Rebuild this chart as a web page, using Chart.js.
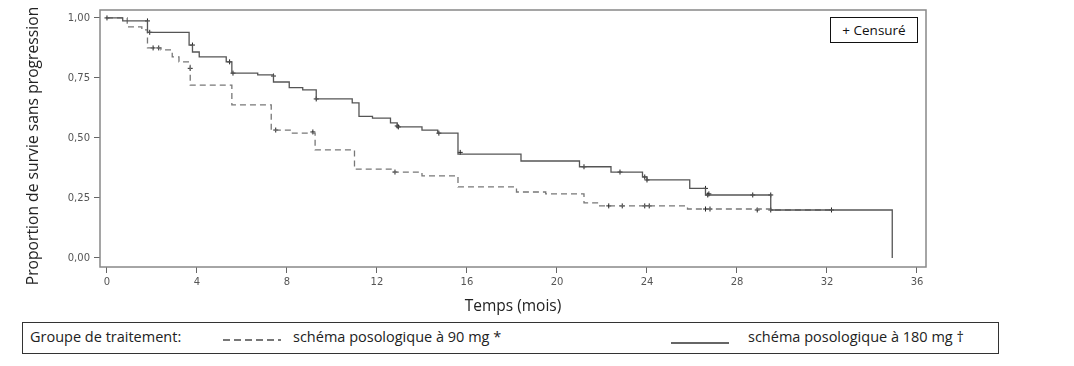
<!DOCTYPE html>
<html lang="fr">
<head>
  <meta charset="UTF-8">
  <title>Survie sans progression</title>
  <style>
    body {
      margin: 0;
      background: #fff;
      font-family: "Open Sans", "Liberation Sans", Arial, sans-serif;
    }
    #wrap {
      position: relative;
      width: 1074px;
      height: 366px;
    }
    #box {
      position: absolute;
      left: 0;
      top: 0;
      width: 1074px;
      height: 320px;
    }
    #censor {
      position: absolute;
      left: 830px;
      top: 17px;
      width: 86px;
      height: 24px;
      border: 1px solid #111;
      font-size: 13.5px;
      line-height: 24px;
      text-align: center;
      color: #111;
      background: #fff;
    }
    #legend {
      position: absolute;
      left: 22px;
      top: 322px;
      width: 975px;
      height: 30px;
      border: 1px solid #333;
      font-size: 14.5px;
      color: #222;
    }
    #legend span {
      position: absolute;
      top: 4px;
      white-space: nowrap;
    }
    #legend .sample {
      position: absolute;
      width: 58px;
      height: 1.5px;
    }
  </style>
</head>
<body>
  <div id="wrap">
    <div id="box"><canvas id="chart"></canvas></div>
    <div id="censor">+ Censuré</div>
    <div id="legend">
      <span style="left:7px">Groupe de traitement:</span>
      <div class="sample" style="left:200px;top:16px;background:repeating-linear-gradient(90deg,#777 0 7px,transparent 7px 11px)"></div>
      <span style="left:270px">schéma posologique à 90 mg *</span>
      <div class="sample" style="left:648px;top:19px;background:#666"></div>
      <span style="left:725px">schéma posologique à 180 mg †</span>
    </div>
  </div>

  <script src="https://cdn.jsdelivr.net/npm/chart.js"></script>
  <script>
    // 180 mg arm (solid)
    const months180 = [0, 0.7, 1.8, 3.65, 3.8, 4.1, 5.3, 5.55, 6.7, 7.4, 8.1, 8.7, 9.3, 10.9, 11.2, 11.8, 12.6, 12.9, 14.0, 14.7, 15.6, 18.4, 21.0, 22.4, 23.8, 24.0, 25.9, 26.6, 29.5, 34.9];
    const surv180 = [1, 0.9875, 0.94, 0.887, 0.858, 0.8375, 0.817, 0.77, 0.7625, 0.733, 0.71, 0.70, 0.6625, 0.646, 0.59, 0.583, 0.5625, 0.546, 0.533, 0.52, 0.433, 0.404, 0.38, 0.358, 0.3375, 0.325, 0.29, 0.2625, 0.20, 0.0];
    const censMonths180 = [0, 1.8, 1.9, 3.8, 5.45, 5.6, 7.4, 9.3, 12.9, 12.95, 14.75, 15.7, 21.2, 22.8, 23.9, 24.0, 26.6, 26.7, 26.75, 28.7, 29.5];
    const censSurv180 = [1, 0.9875, 0.94, 0.887, 0.817, 0.77, 0.758, 0.6625, 0.55, 0.546, 0.52, 0.44, 0.38, 0.358, 0.3375, 0.325, 0.29, 0.2625, 0.267, 0.2625, 0.2625];

    // 90 mg arm (dashed)
    const months90 = [0, 0.9, 1.55, 1.8, 2.4, 2.9, 3.2, 3.7, 5.55, 7.3, 8.2, 9.25, 11.0, 12.7, 14.0, 15.6, 18.2, 19.5, 21.2, 21.8, 25.8, 29.5, 32.2];
    const surv90 = [1, 0.9625, 0.95, 0.875, 0.867, 0.8375, 0.817, 0.72, 0.6375, 0.533, 0.52, 0.45, 0.37, 0.358, 0.342, 0.296, 0.275, 0.267, 0.23, 0.217, 0.204, 0.20, 0.20];
    const censMonths90 = [2.05, 2.3, 3.7, 7.5, 9.15, 12.8, 22.3, 22.9, 23.9, 24.1, 26.6, 26.8, 28.9, 29.5, 32.2];
    const censSurv90 = [0.875, 0.875, 0.79, 0.533, 0.525, 0.358, 0.217, 0.217, 0.217, 0.217, 0.204, 0.204, 0.20, 0.20, 0.20];

    const xTicks = [0, 4, 8, 12, 16, 20, 24, 28, 32, 36];
    const yTicks = [0, 0.25, 0.5, 0.75, 1];
    const yTickLabels = ['0,00', '0,25', '0,50', '0,75', '1,00'];
    const yTitle = 'Proportion de survie sans progression';

    function pts(xs, ys) {
      return xs.map((x, i) => ({ x: x, y: ys[i] }));
    }

    // plot frame + y title (drawn by hand so it can sit a bit lower than centre)
    const framePlugin = {
      id: 'frame',
      afterDraw(chart) {
        const a = chart.chartArea;
        const ctx = chart.ctx;
        ctx.save();
        ctx.strokeStyle = '#888';
        ctx.lineWidth = 1.5;
        ctx.strokeRect(a.left, a.top, a.right - a.left, a.bottom - a.top);
        ctx.translate(34, 146);
        ctx.rotate(-Math.PI / 2);
        ctx.font = '15.7px "Open Sans"';
        ctx.fillStyle = '#222';
        ctx.textAlign = 'center';
        ctx.textBaseline = 'middle';
        ctx.fillText(yTitle, 0, 0);
        ctx.restore();
      }
    };

    const tickFont = { family: 'DejaVu Sans', size: 10 };
    const titleFont = { family: 'Open Sans', size: 15.5 };

    new Chart(document.getElementById('chart'), {
      type: 'scatter',
      data: {
        datasets: [
          {
            data: pts(months180, surv180),
            showLine: true,
            stepped: 'before',
            borderColor: '#555',
            borderWidth: 1.3,
            pointRadius: 0
          },
          {
            data: pts(months90, surv90),
            showLine: true,
            stepped: 'before',
            borderColor: '#777',
            borderWidth: 1.3,
            borderDash: [6, 4],
            pointRadius: 0
          },
          {
            data: pts(censMonths180, censSurv180),
            pointStyle: 'cross',
            pointRadius: 2.5,
            borderColor: '#222',
            borderWidth: 1
          },
          {
            data: pts(censMonths90, censSurv90),
            pointStyle: 'cross',
            pointRadius: 2.5,
            borderColor: '#222',
            borderWidth: 1
          }
        ]
      },
      options: {
        responsive: true,
        maintainAspectRatio: false,
        animation: false,
        layout: { padding: { top: 10, right: 148, left: 0, bottom: 0 } },
        plugins: {
          legend: { display: false },
          tooltip: { enabled: false }
        },
        scales: {
          x: {
            type: 'linear',
            min: -0.31,
            max: 36.4,
            afterFit(scale) { scale.height = 53; },
            afterBuildTicks(scale) { scale.ticks = xTicks.map(v => ({ value: v })); },
            ticks: { color: '#555', font: tickFont, padding: 3 },
            grid: { display: true, drawOnChartArea: false, tickLength: 6, color: '#666' },
            border: { display: false },
            title: {
              display: true,
              text: 'Temps (mois)',
              color: '#222',
              font: titleFont,
              padding: { top: 4, bottom: 4 }
            }
          },
          y: {
            type: 'linear',
            min: -0.0375,
            max: 1.033,
            afterFit(scale) { scale.width = 100; },
            afterBuildTicks(scale) { scale.ticks = yTicks.map(v => ({ value: v })); },
            ticks: {
              color: '#555',
              font: tickFont,
              padding: 4,
              callback: (v) => yTickLabels[yTicks.indexOf(v)]
            },
            grid: { display: true, drawOnChartArea: false, tickLength: 6, color: '#666' },
            border: { display: false }
          }
        }
      },
      plugins: [framePlugin]
    });
  </script>
</body>
</html>
